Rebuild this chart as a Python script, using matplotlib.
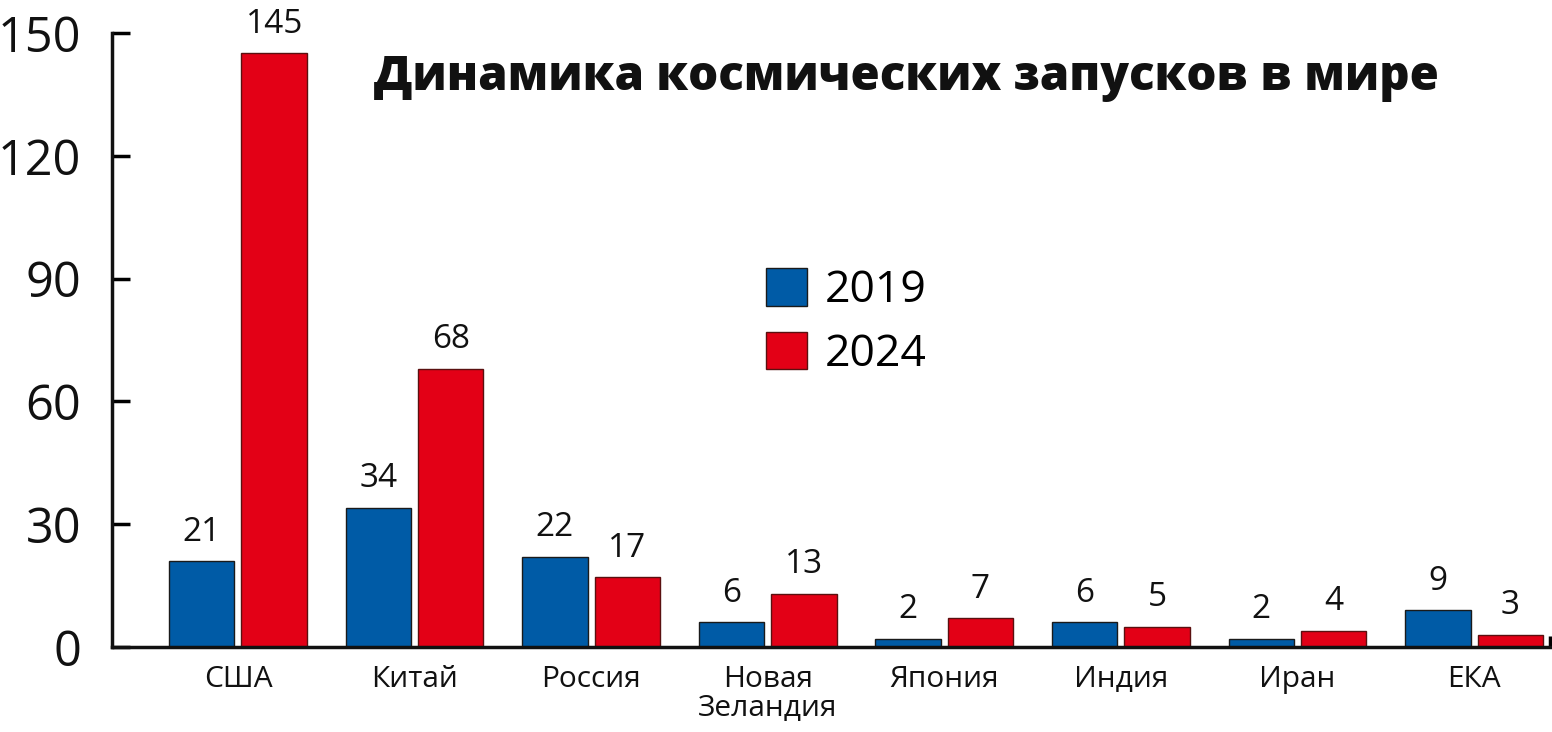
import matplotlib
matplotlib.use("Agg")
import matplotlib.pyplot as plt
import numpy as np
from matplotlib.patches import Patch

categories = ["США", "Китай", "Россия", "Новая\nЗеландия", "Япония", "Индия", "Иран", "ЕКА"]
values_2019 = [21, 34, 22, 6, 2, 6, 2, 9]
values_2024 = [145, 68, 17, 13, 7, 5, 4, 3]
series_labels = ["2019", "2024"]
yticks = [0, 30, 60, 90, 120, 150]
title = "Динамика космических запусков в мире"

blue = "#005BA6"
red = "#E30016"

plt.rcParams['font.family'] = ['Open Sans', 'DejaVu Sans']

fig = plt.figure(figsize=(15.52, 7.32), dpi=100)
ax = fig.add_axes([0.0722, 0.1161, 0.9265, 0.8388])

x = np.arange(len(categories))
w = 0.37
off = 0.205
b1 = ax.bar(x - off, values_2019, w, color=blue, edgecolor="#1a1a1a", linewidth=1, zorder=2)
b2 = ax.bar(x + off, values_2024, w, color=red, edgecolor="#5a1010", linewidth=1, zorder=2)

for bars, vals in ((b1, values_2019), (b2, values_2024)):
    for r, v in zip(bars, vals):
        ax.annotate(str(v), (r.get_x() + r.get_width() / 2, r.get_height()),
                    xytext=(0, 9), textcoords="offset points",
                    ha="center", va="bottom", fontsize=24, color="#111")

ax.set_xlim(-0.713, 7.43)
ax.set_ylim(0, 150)
ax.set_yticks(yticks)
ax.set_yticklabels([str(t) for t in yticks], fontsize=35, color="#111")
ax.tick_params(axis="y", direction="in", length=13, width=2.5, pad=22)
ax.set_xticks(x)
ax.set_xticklabels(categories, fontsize=21.5, color="#111", linespacing=1.0)
ax.tick_params(axis="x", length=0, pad=13)
ax.set_xticks([7.43], minor=True)
ax.tick_params(axis="x", which="minor", direction="in", length=8, width=2.5)

for s in ("top", "right"):
    ax.spines[s].set_visible(False)
for s in ("left", "bottom"):
    ax.spines[s].set_linewidth(2.5)
    ax.spines[s].set_color("#111")

handles = [Patch(facecolor=blue, edgecolor="#1a1a1a", linewidth=1),
           Patch(facecolor=red, edgecolor="#5a1010", linewidth=1)]
ax.legend(handles, series_labels, loc="upper left", bbox_to_anchor=(0.455, 0.617),
          frameon=False, fontsize=32, handlelength=0.92, handleheight=0.92,
          handletextpad=0.4, labelspacing=0.42, borderpad=0, borderaxespad=0)

fig.text(0.584, 0.893, title, ha="center", va="center", fontsize=34,
         fontweight="heavy", color="#111")

fig.savefig("out.png", dpi=100)
